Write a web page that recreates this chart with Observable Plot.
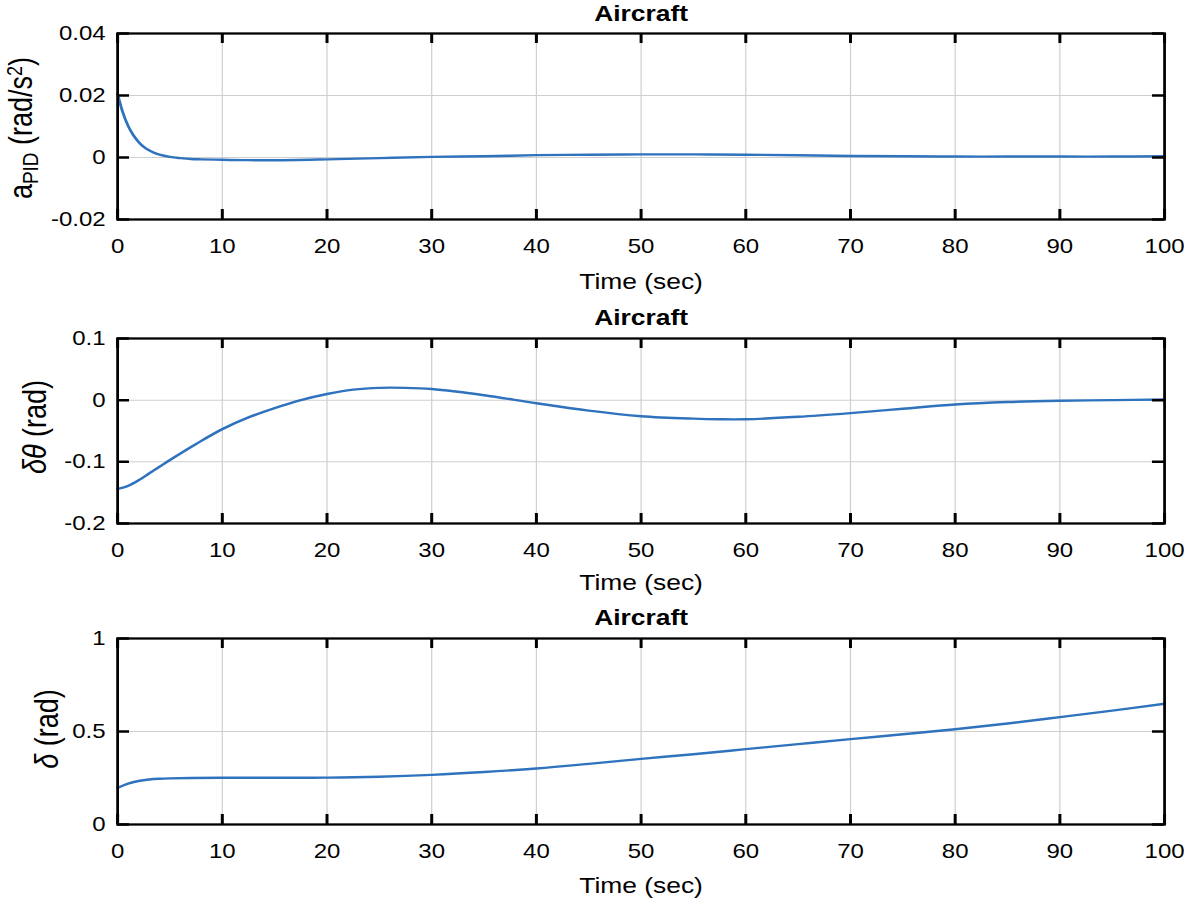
<!DOCTYPE html>
<html>
<head>
<meta charset="utf-8">
<script src="https://cdn.jsdelivr.net/npm/d3@7"></script>
<script src="https://cdn.jsdelivr.net/npm/@observablehq/plot@0.6"></script>
<style>
html, body { margin: 0; padding: 0; background: #fff; }
#wrap { width: 986.67px; transform: scaleX(1.2); transform-origin: 0 0; }
#wrap svg { display: block; }
</style>
</head>
<body>
<div id="wrap"></div>
<script>
// ---------- data ----------
const titleText = "Aircraft";
const xLabelText = "Time (sec)";
const xTicks = [0, 10, 20, 30, 40, 50, 60, 70, 80, 90, 100];

// panel 1: a_PID (rad/s^2)
const tA = [0, 0.5, 1, 1.5, 2, 2.5, 3, 3.5, 4, 5, 6, 7, 8, 10, 12, 15, 20, 25, 30, 35, 40, 45, 50, 55, 60, 65, 70, 75, 80, 85, 90, 95, 100];
const aPID = [0.0205, 0.0145, 0.0102, 0.0072, 0.0050, 0.0034, 0.0023, 0.0015, 0.0009, 0.0002, -0.0002, -0.0005, -0.0006, -0.00075, -0.00085, -0.0009, -0.0006, -0.0002, 0.0002, 0.0004, 0.00075, 0.0009, 0.001, 0.001, 0.0009, 0.0007, 0.0005, 0.0004, 0.0003, 0.0003, 0.0003, 0.0003, 0.0004];
const yTicksA = [-0.02, 0, 0.02, 0.04];

// panel 2: delta theta (rad)
const tB = [0, 1, 2, 3, 4, 5, 7.5, 10, 12.5, 15, 17.5, 20, 22.5, 25, 27.5, 30, 35, 40, 45, 50, 55, 57.5, 60, 65, 70, 75, 80, 85, 90, 95, 100];
const dTheta = [-0.144, -0.139, -0.130, -0.119, -0.108, -0.097, -0.071, -0.047, -0.028, -0.013, 0.000, 0.010, 0.017, 0.020, 0.020, 0.018, 0.008, -0.005, -0.017, -0.026, -0.030, -0.031, -0.031, -0.027, -0.021, -0.014, -0.007, -0.003, -0.001, 0.000, 0.001];
const yTicksB = [-0.2, -0.1, 0, 0.1];

// panel 3: delta (rad)
const tC = [0, 1, 2, 3, 4, 5, 7, 10, 15, 20, 25, 30, 35, 40, 45, 50, 55, 60, 65, 70, 75, 80, 85, 90, 95, 100];
const delta = [0.197, 0.220, 0.234, 0.242, 0.246, 0.248, 0.250, 0.251, 0.251, 0.252, 0.257, 0.267, 0.282, 0.301, 0.326, 0.353, 0.378, 0.405, 0.432, 0.459, 0.485, 0.512, 0.543, 0.577, 0.612, 0.649];
const yTicksC = [0, 0.5, 1];

// ---------- layout ----------
const S = 1.2;                // horizontal stretch of the reference
const W = 1184 / S;
const ML = 117 / S;
const MR = (1184 - 1164) / S;
const FONT = "'Liberation Sans', Arial, Helvetica, sans-serif";
const LINE = "#2f72bd";

function panel(cfg) {
  const data = cfg.t.map((t, i) => ({t, v: cfg.v[i]}));
  const fw = W - ML - MR;
  const fh = cfg.height - cfg.mt - cfg.mb;
  const svg = Plot.plot({
    width: W,
    height: cfg.height,
    marginLeft: ML,
    marginRight: MR,
    marginTop: cfg.mt,
    marginBottom: cfg.mb,
    style: {fontFamily: FONT, fontSize: "20px", color: "black", background: "white"},
    x: {domain: [0, 100], label: null},
    y: {domain: cfg.yDomain, label: null},
    marks: [
      Plot.gridX(xTicks, {stroke: "#cfcfcf", strokeOpacity: 1, strokeWidth: 1}),
      Plot.gridY(cfg.yTicks, {stroke: "#cfcfcf", strokeOpacity: 1, strokeWidth: 1}),
      Plot.line(data, {x: "t", y: "v", stroke: LINE, strokeWidth: 2.4, curve: "catmull-rom"}),
      Plot.frame({stroke: "black", strokeWidth: 2.3}),
      Plot.tickX(xTicks, {x: d => d, insetTop: fh - 10, stroke: "black", strokeWidth: 2.5}),
      Plot.tickX(xTicks, {x: d => d, insetBottom: fh - 10, stroke: "black", strokeWidth: 2.5}),
      Plot.tickY(cfg.yTicks, {y: d => d, insetRight: fw - 10, stroke: "black", strokeWidth: 2.5}),
      Plot.tickY(cfg.yTicks, {y: d => d, insetLeft: fw - 10, stroke: "black", strokeWidth: 2.5}),
      Plot.axisX({ticks: xTicks, tickSize: 0, tickPadding: 19, tickFormat: d => String(d), label: null, fontSize: 20}),
      Plot.axisY({ticks: cfg.yTicks, tickSize: 0, tickPadding: 10, tickFormat: d => String(d), label: null, fontSize: 20}),
      Plot.text([titleText], {text: d => d, frameAnchor: "top", lineAnchor: "bottom", dy: cfg.titleDy, fontWeight: "bold", fontSize: 22}),
      Plot.text([xLabelText], {text: d => d, frameAnchor: "bottom", lineAnchor: "bottom", dy: cfg.xlabelDy, fontSize: 22})
    ]
  });
  const lab = d3.select(svg).append("text")
    .attr("transform", `translate(${cfg.labX},${cfg.labY}) rotate(-90)`)
    .attr("text-anchor", "middle")
    .attr("font-family", FONT)
    .attr("font-size", 27)
    .attr("fill", "black")
    .style("white-space", "pre");
  cfg.label(lab);
  return svg;
}

const wrap = document.getElementById("wrap");

wrap.appendChild(panel({
  t: tA, v: aPID, yDomain: [-0.02, 0.04], yTicks: yTicksA,
  height: 300, mt: 33, mb: 81, titleDy: -12, xlabelDy: 70,
  labX: 26.5, labY: 128,
  label: (t) => {
    t.append("tspan").text("a");
    t.append("tspan").attr("font-size", 19).attr("dy", 5).text("PID");
    t.append("tspan").attr("dy", -5).text(" (rad/s");
    t.append("tspan").attr("font-size", 18).attr("dy", -8).text("2");
    t.append("tspan").attr("dy", 8).text(")");
  }
}));

wrap.appendChild(panel({
  t: tB, v: dTheta, yDomain: [-0.2, 0.1], yTicks: yTicksB,
  height: 300, mt: 38, mb: 77, titleDy: -13, xlabelDy: 67,
  labX: 38.5, labY: 127,
  label: (t) => {
    t.append("tspan").attr("font-style", "italic").text("δθ");
    t.append("tspan").text(" (rad)");
  }
}));

wrap.appendChild(panel({
  t: tC, v: delta, yDomain: [0, 1], yTicks: yTicksC,
  height: 300, mt: 38, mb: 76, titleDy: -13, xlabelDy: 69,
  labX: 48.5, labY: 129,
  label: (t) => {
    t.append("tspan").attr("font-style", "italic").text("δ");
    t.append("tspan").text(" (rad)");
  }
}));
</script>
</body>
</html>
